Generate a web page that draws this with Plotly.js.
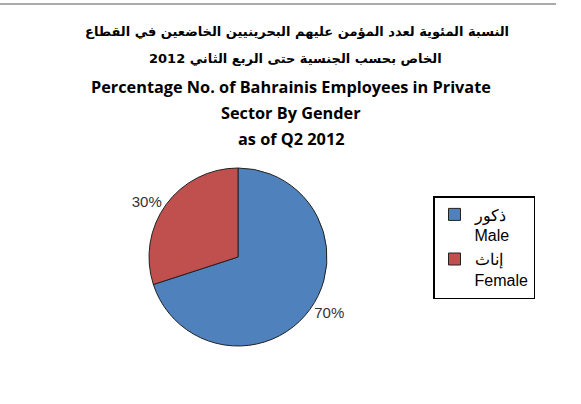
<!DOCTYPE html>
<html>
<head>
<meta charset="utf-8">
<script src="https://cdn.plot.ly/plotly-3.0.1.min.js"></script>
<style>
  html, body { margin: 0; padding: 0; background: #fff; }
  #chart { width: 581px; height: 404px; }
</style>
</head>
<body>
<div id="chart"></div>
<script>
// ── Data ──────────────────────────────────────────────────────────────────────

const labels = ['ذكور<br>Male', 'إناث<br>Female'];
const values = [70, 30];
const colors = ['#4F81BD', '#C0504D'];

const titleAr1 = 'النسبة المئوية لعدد المؤمن عليهم البحرينيين الخاضعين في القطاع';
const titleAr2 = 'الخاص بحسب الجنسية حتى الربع الثاني 2012';
const titleEn  = ['Percentage No. of Bahrainis Employees in Private', 'Sector By Gender', 'as of Q2 2012'];

// ── Layout helpers ────────────────────────────────────────────────────────────

const W = 581, H = 404;
const px = x => x / W;
const py = y => 1 - y / H;

const note = (text, x, y, font) => ({
  text, x: px(x), y: py(y), xref: 'paper', yref: 'paper',
  xanchor: 'center', yanchor: 'middle', showarrow: false, font,
});

const arFont = { family: 'DejaVu Sans, sans-serif', size: 13, color: '#000' };
const enFont = { family: 'Open Sans, sans-serif', size: 16.3, color: '#000', weight: 'bold' };

const trace = {
  type: 'pie',
  labels, values,
  sort: false,
  direction: 'clockwise',
  rotation: 0,
  marker: { colors, line: { color: '#222', width: 1 } },
  textinfo: 'percent',
  textposition: 'outside',
  outsidetextfont: { family: 'Liberation Sans, Arial, sans-serif', size: 15, color: '#333' },
  domain: { x: [px(149), px(327)], y: [py(346), py(168)] },
  hoverinfo: 'none',
};

const layout = {
  width: W, height: H,
  margin: { t: 0, b: 0, l: 0, r: 0 },
  paper_bgcolor: '#fff',
  showlegend: true,
  legend: {
    x: px(433), y: py(196), xanchor: 'left', yanchor: 'top',
    bordercolor: '#000', borderwidth: 1.5, bgcolor: '#fff',
    font: { family: 'Liberation Sans, Arial, sans-serif', size: 16, color: '#000' },
    valign: 'top', itemwidth: 30, tracegroupgap: 6,
  },
  annotations: [
    note('<b>' + titleAr1 + '</b>', 297, 32, arFont),
    note('<b>' + titleAr2 + '</b>', 295, 58, arFont),
    note(titleEn[0], 291, 87, enFont),
    note(titleEn[1], 291, 113, enFont),
    note(titleEn[2], 291, 139, enFont),
  ],
  shapes: [{
    type: 'line', xref: 'paper', yref: 'paper',
    x0: 0, x1: px(556), y0: py(4), y1: py(4),
    line: { color: '#aaa', width: 2 },
  }],
};

Plotly.newPlot('chart', [trace], layout, { displayModeBar: false, staticPlot: true });
</script>
</body>
</html>
